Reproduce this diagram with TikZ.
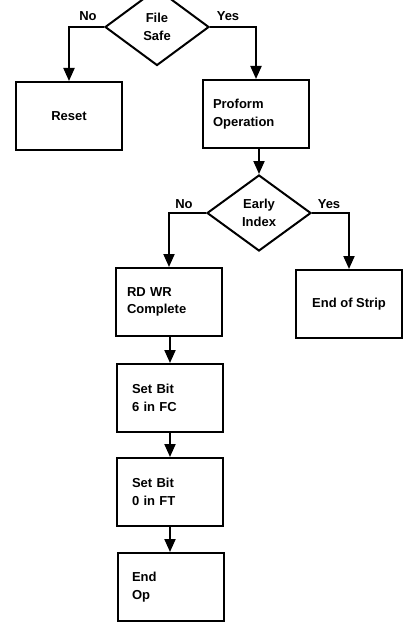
\documentclass[tikz,border=0pt]{standalone}
\usepackage{fontspec}
\setmainfont{Liberation Sans}
\usetikzlibrary{shapes.geometric,arrows.meta}
\begin{document}
\begin{tikzpicture}[x=1pt,y=-1pt,
  txt/.style={font=\fontsize{13}{17.5}\selectfont\bfseries},
  box/.style={draw,line width=2pt,minimum width=106pt,minimum height=68pt,inner ysep=0pt,txt},
  lbox/.style={box,align=left,inner xsep=#1,text width=106pt-2*#1},
  dec/.style={draw,diamond,line width=2pt,inner sep=0pt,minimum width=104pt,minimum height=77pt,align=center,txt},
  arr/.style={line width=2pt,-{Triangle[width=11pt,length=13pt]}},
  lab/.style={txt,inner sep=0pt}]
\useasboundingbox (0,0) rectangle (409,623);
\clip (0,0) rectangle (409,623);
\node[dec] (fs) at (157,27) {File\\Safe};
\node[box] (reset) at (69,116) {Reset};
\node[lbox=10pt] (proform) at (256,114) {Proform\\Operation};
\node[dec,minimum height=76pt] (ei) at (259,213) {Early\\Index};
\node[lbox=11pt] (rdwr) at (169,302) {RD WR\\Complete};
\node[box] (eos) at (349,304) {End of Strip};
\node[lbox=15pt] (sb6) at (170,398) {Set Bit\\6 in FC};
\node[lbox=15pt] (sb0) at (170,492) {Set Bit\\0 in FT};
\node[lbox=14pt] (endop) at (171,587) {End\\Op};
\node[lab] (no1) at (88,16) {No};
\node[lab] (yes1) at (228,16) {Yes};
\node[lab] (no2) at (184,204) {No};
\node[lab] (yes2) at (329,204) {Yes};
\draw[arr] (fs.west) -| (reset.north);
\draw[arr] (fs.east) -| (proform.north);
\draw[arr] (proform.south -| ei.north) -- (ei.north);
\draw[arr] (ei.west) -| (rdwr.north);
\draw[arr] (ei.east) -| (eos.north);
\draw[arr] (rdwr.south -| sb6.north) -- (sb6.north);
\draw[arr] (sb6.south) -- (sb0.north);
\draw[arr] (sb0.south) -- (sb0.south |- endop.north);
\end{tikzpicture}
\end{document}
